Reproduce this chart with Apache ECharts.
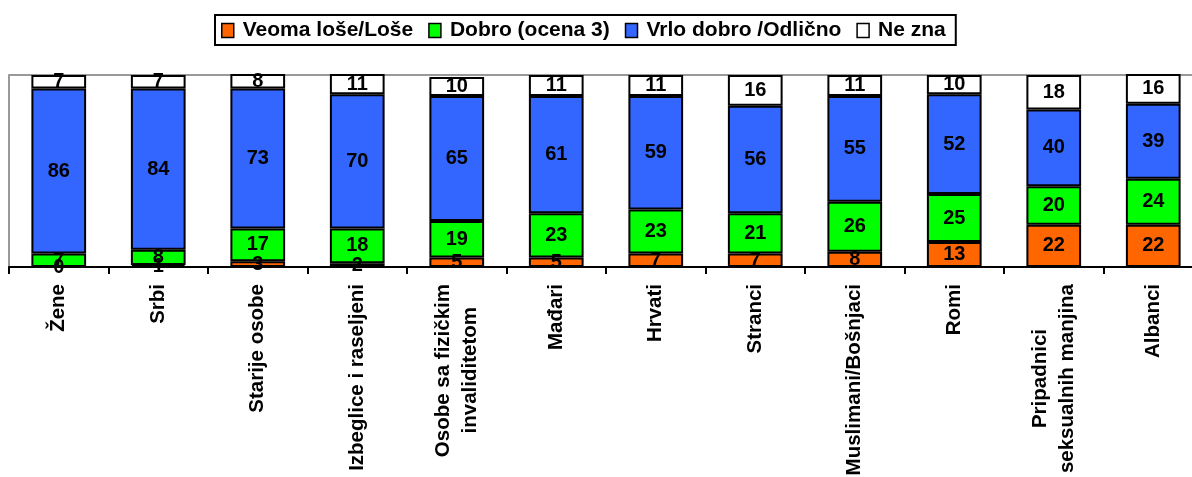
<!DOCTYPE html>
<html>
<head>
<meta charset="utf-8">
<script src="https://cdn.jsdelivr.net/npm/echarts@6/dist/echarts.min.js"></script>
<style>
  html, body { margin: 0; padding: 0; background: #fff; }
  #chart { width: 1192px; height: 477px; }
</style>
</head>
<body>
<div id="chart"></div>
<script>
// data
const categories = [
  'Žene', 'Srbi', 'Starije osobe', 'Izbeglice i raseljeni',
  'Osobe sa fizičkim\ninvaliditetom', 'Mađari', 'Hrvati', 'Stranci',
  'Muslimani/Bošnjaci', 'Romi', 'Pripadnici\nseksualnih manjina', 'Albanci'
]
const losaValues    = [0, 1, 3, 2, 5, 5, 7, 7, 8, 13, 22, 22]
const dobroValues   = [7, 8, 17, 18, 19, 23, 23, 21, 26, 25, 20, 24]
const odlicnoValues = [86, 84, 73, 70, 65, 61, 59, 56, 55, 52, 40, 39]
const neZnaValues   = [7, 7, 8, 11, 10, 11, 11, 16, 11, 10, 18, 16]

const seriesNames = ['Veoma loše/Loše', 'Dobro (ocena 3)', 'Vrlo dobro /Odlično', 'Ne zna']
const colors = ['#FF6600', '#00FF00', '#3366FF', '#FFFFFF']
const seriesData = [losaValues, dobroValues, odlicnoValues, neZnaValues]

const font = 'Arial, "Liberation Sans", sans-serif'
const labelSize = 20.5
const labelLine = 27

const chart = echarts.init(document.getElementById('chart'))

// rich styles per label line, padded so two-line labels look centred
const ctx = document.createElement('canvas').getContext('2d')
ctx.font = 'bold ' + labelSize + 'px ' + font
const richStyles = {}
categories.forEach((c, i) => {
  const lines = c.split('\n')
  const widths = lines.map(s => ctx.measureText(s).width)
  const maxW = Math.max(...widths)
  lines.forEach((s, j) => {
    richStyles['c' + i + '_' + j] = {
      padding: [0, Math.round((maxW - widths[j]) / 2), 0, 0],
      fontFamily: font,
      fontWeight: 'bold',
      fontSize: labelSize,
      lineHeight: labelLine,
      color: '#000'
    }
  })
})

const makeSeries = (name, i) => ({
  name: name,
  type: 'bar',
  stack: 'total',
  barWidth: '55%',
  data: seriesData[i],
  itemStyle: {
    color: colors[i],
    borderColor: '#000',
    borderWidth: 2
  },
  label: {
    show: true,
    position: 'inside',
    color: '#000',
    fontFamily: font,
    fontWeight: 'bold',
    fontSize: 20
  },
  animation: false
})

chart.setOption({
  animation: false,
  legend: {
    left: 215,
    top: 15,
    padding: [5, 10, 4, 6],
    borderColor: '#000',
    borderWidth: 2,
    itemWidth: 12,
    itemHeight: 14,
    itemGap: 15,
    icon: 'rect',
    textStyle: {
      fontFamily: font,
      fontWeight: 'bold',
      fontSize: 21,
      color: '#000',
      padding: [0, 0, 0, 4]
    },
    itemStyle: {
      borderColor: '#000',
      borderWidth: 1.5
    },
    data: seriesNames
  },
  grid: {
    left: 9,
    width: 1194,
    top: 75,
    bottom: 210,
    outerBoundsMode: 'none'
  },
  xAxis: {
    type: 'category',
    data: categories,
    axisLine: { lineStyle: { color: '#000', width: 2 } },
    axisTick: { show: true, length: 7, lineStyle: { color: '#000', width: 2 } },
    axisLabel: {
      rotate: 90,
      interval: 0,
      margin: 17,
      color: '#000',
      fontFamily: font,
      fontWeight: 'bold',
      fontSize: labelSize,
      lineHeight: labelLine,
      align: 'right',
      formatter: (v, idx) => v.split('\n').map((s, j) => '{c' + idx + '_' + j + '|' + s + '}').join('\n'),
      rich: richStyles
    }
  },
  yAxis: {
    type: 'value',
    min: 0,
    max: 100,
    interval: 100,
    axisLine: { show: true, lineStyle: { color: '#999', width: 2 } },
    axisTick: { show: false },
    axisLabel: { show: false },
    splitLine: { show: true, lineStyle: { color: '#999', width: 2 } }
  },
  series: seriesNames.map(makeSeries)
})
</script>
</body>
</html>
